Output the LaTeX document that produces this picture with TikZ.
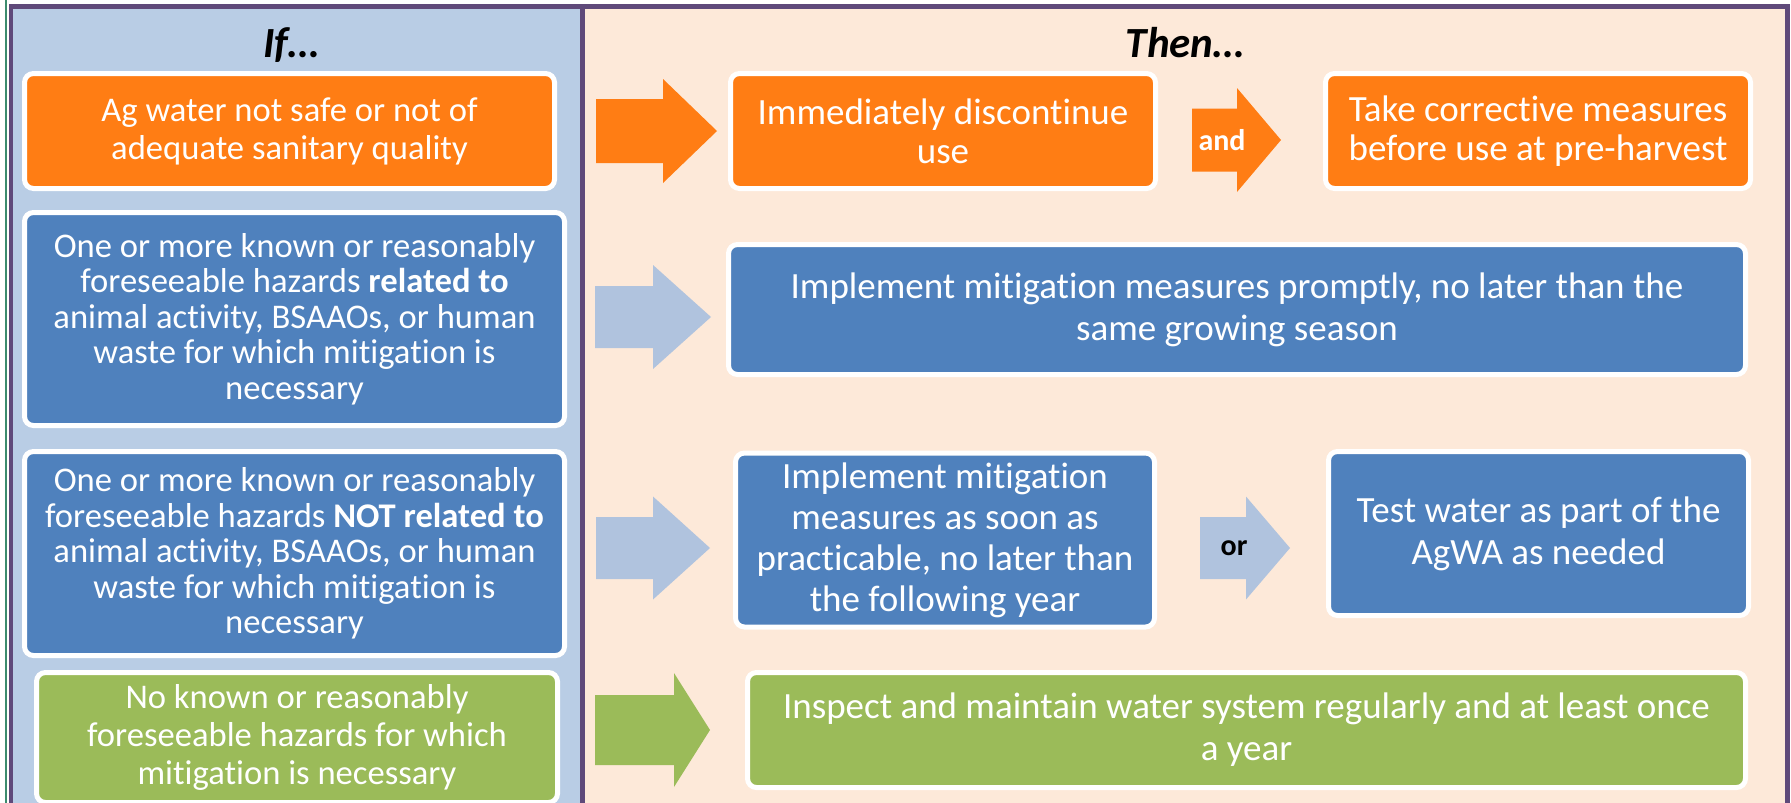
\documentclass[tikz,border=0pt]{standalone}
\usepackage{fontspec}
\setmainfont{Carlito}[RawFeature={-liga;-rlig;-clig;-dlig;-calt}]

\definecolor{frameP}{RGB}{95,73,122}
\definecolor{ifBG}{RGB}{185,205,229}
\definecolor{thenBG}{RGB}{253,233,217}
\definecolor{orangeF}{RGB}{255,125,20}
\definecolor{blueF}{RGB}{79,129,189}
\definecolor{greenF}{RGB}{155,187,89}
\definecolor{paleF}{RGB}{176,195,222}
\definecolor{edgeG}{RGB}{60,140,110}

\begin{document}
\begin{tikzpicture}[x=1pt, y=-1pt,
  box/.style={draw=white, line width=5pt, rounded corners=9pt, text=white, align=center, inner sep=0pt},
  cond/.style={font=\fontsize{34.6pt}{38pt}\selectfont},
  act/.style={font=\fontsize{37pt}{42pt}\selectfont},
  head/.style={font=\bfseries\itshape\fontsize{43pt}{43pt}\selectfont, anchor=base},
  word/.style={font=\bfseries\fontsize{30pt}{30pt}\selectfont}]

\useasboundingbox (0,0) rectangle (1791,803);

% frame and the two columns
\fill[white] (0,0) rectangle (1791,803);
\draw[edgeG, line width=2pt] (6,0) -- (6,803);
\fill[frameP] (9,4) rectangle (1790,803);
\fill[ifBG] (13,9) rectangle (580,803);
\fill[thenBG] (585,9) rectangle (1785,803);

\node[head] (ifT) at (291,57) {If…};
\node[head] (thenT) at (1185,57) {Then…};

% block arrows: colour / tail x / head x / tip x / mid y / half shaft / half head
\foreach \c/\xa/\xb/\xc/\ym/\s/\h in {orangeF/596/663/717/131/32/52,
                                      paleF/595/653/711/317/31/52,
                                      paleF/596/653/710/548/31/51.5,
                                      greenF/595/674/710/730/35/57,
                                      orangeF/1192/1237/1281/140/31.5/52,
                                      paleF/1200/1246/1290/548/31/51.5}
  \fill[\c] (\xa,\ym-\s) -- (\xb,\ym-\s) -- (\xb,\ym-\h) -- (\xc,\ym)
            -- (\xb,\ym+\h) -- (\xb,\ym+\s) -- (\xa,\ym+\s) -- cycle;

% conditions
\node[box, cond, fill=orangeF, minimum width=530pt, minimum height=115pt] (I1) at (289.5,131)
  {Ag water not safe or not of\\adequate sanitary quality};
\node[box, cond, fill=blueF, minimum width=540pt, minimum height=213pt,
      font=\fontsize{34.6pt}{35.5pt}\selectfont] (I2) at (294.5,319)
  {One or more known or reasonably\\foreseeable hazards \textbf{related to}\\animal activity, BSAAOs, or human\\waste for which mitigation is\\necessary};
\node[box, cond, fill=blueF, minimum width=540pt, minimum height=204pt,
      font=\fontsize{34.6pt}{35.5pt}\selectfont] (I3) at (294.5,553.5)
  {One or more known or reasonably\\foreseeable hazards \textbf{NOT related to}\\animal activity, BSAAOs, or human\\waste for which mitigation is\\necessary};
\node[box, cond, fill=greenF, minimum width=521pt, minimum height=130pt] (I4) at (297,737.5)
  {No known or reasonably\\foreseeable hazards for which\\mitigation is necessary};

% actions
\node[box, act, fill=orangeF, minimum width=425pt, minimum height=115pt,
      font=\fontsize{37pt}{39pt}\selectfont] (T1) at (943,131)
  {Immediately discontinue\\use};
\node[box, act, fill=orangeF, minimum width=425pt, minimum height=115pt,
      font=\fontsize{37pt}{39pt}\selectfont] (T1b) at (1538,131)
  {Take corrective measures\\before use at pre-harvest};
\node[box, act, fill=blueF, minimum width=1017pt, minimum height=130pt] (T2) at (1237,309.5)
  {Implement mitigation measures promptly, no later than the\\same growing season};
\node[box, act, fill=blueF, minimum width=419pt, minimum height=174pt,
      font=\fontsize{37pt}{41pt}\selectfont] (T3) at (945,540)
  {Implement mitigation\\measures as soon as\\practicable, no later than\\the following year};
\node[box, act, fill=blueF, minimum width=420pt, minimum height=164pt] (T3b) at (1538.5,533.5)
  {Test water as part of the\\AgWA as needed};
\node[box, act, fill=greenF, minimum width=998pt, minimum height=115pt] (T4) at (1246.5,730)
  {Inspect and maintain water system regularly and at least once\\a year};

\node[word, text=white] (andW) at (1222,140) {and};
\node[word, text=black] (orW) at (1234,548) {or};

\end{tikzpicture}
\end{document}
